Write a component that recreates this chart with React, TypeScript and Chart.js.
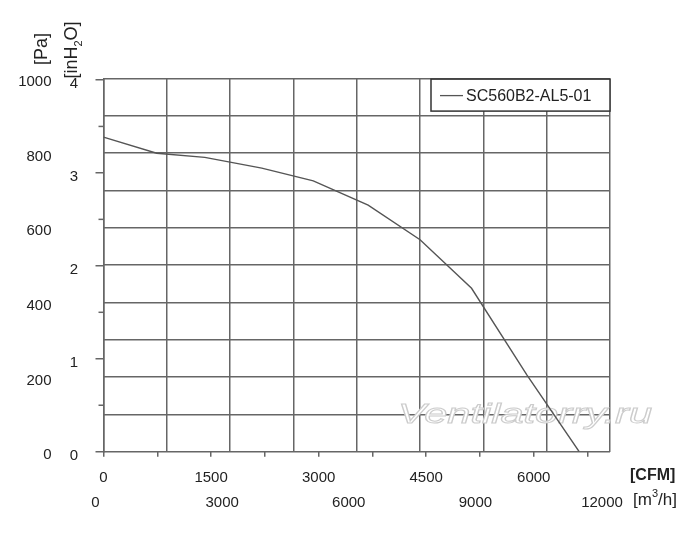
import React, { useEffect, useRef } from "react";
import { Chart, registerables } from "chart.js";

Chart.register(...registerables);

// ---- data (flow in m3/h, static pressure in Pa) ----
const flowM3h = [0, 1260, 2400, 3750, 4970, 6270, 7500, 8720, 10030, 11270];
const pressurePa = [843, 800, 789, 760, 726, 661, 568, 438, 206, 0];
const seriesName = "SC560B2-AL5-01";

const paTicks = [0, 100, 200, 300, 400, 500, 600, 700, 800, 900, 1000];
const inH2OTicks = [0, 1, 2, 3, 4];
const inH2OMinorTicks = [0.5, 1.5, 2.5, 3.5];
const m3hTicks = [0, 1500, 3000, 4500, 6000, 7500, 9000, 10500, 12000];
const cfmTicks = [0, 750, 1500, 2250, 3000, 3750, 4500, 5250, 6000, 6750];

const PA_PER_INH2O = 249.089;
const M3H_PER_CFM = 1.69901;

const GRID = "#666666";
const TEXT = "#222222";
const SANS = '"Liberation Sans", Arial, sans-serif';
const TICK_FONT = { family: SANS, size: 15 };

const decorPlugin = {
  id: "decor",
  beforeDatasetsDraw(chart: any) {
    const ctx = chart.ctx as CanvasRenderingContext2D;
    const ca = chart.chartArea;
    // watermark
    ctx.save();
    ctx.font = `italic 28px ${SANS}`;
    const txt = "Ventilatorry.ru";
    const w = ctx.measureText(txt).width;
    ctx.translate(ca.left + 294.5, ca.bottom - 28.4);
    ctx.scale(254 / w, 1);
    ctx.fillStyle = "#ffffff";
    ctx.fillText(txt, 0, 0);
    ctx.strokeStyle = "#cccccc";
    ctx.lineWidth = 1;
    ctx.strokeText(txt, 0, 0);
    ctx.restore();
  },
  afterDraw(chart: any) {
    const ctx = chart.ctx as CanvasRenderingContext2D;
    const ca = chart.chartArea;
    // minor inH2O ticks
    const yi = chart.scales.yi;
    ctx.save();
    ctx.strokeStyle = GRID;
    ctx.lineWidth = 1.5;
    inH2OMinorTicks.forEach((v) => {
      const py = yi.getPixelForValue(v);
      ctx.beginPath();
      ctx.moveTo(ca.left - 5, py);
      ctx.lineTo(ca.left, py);
      ctx.stroke();
    });
    ctx.restore();

    // legend box
    ctx.save();
    const bw = 179;
    const bh = 32;
    const bx = ca.right - bw;
    const by = ca.top + 0.5;
    ctx.fillStyle = "#ffffff";
    ctx.fillRect(bx, by, bw, bh);
    ctx.strokeStyle = "#333333";
    ctx.lineWidth = 1.5;
    ctx.strokeRect(bx, by, bw, bh);
    ctx.strokeStyle = "#555555";
    ctx.lineWidth = 1.3;
    ctx.beginPath();
    ctx.moveTo(bx + 9, by + bh / 2 + 0.5);
    ctx.lineTo(bx + 32, by + bh / 2 + 0.5);
    ctx.stroke();
    ctx.fillStyle = TEXT;
    ctx.font = `16px ${SANS}`;
    ctx.textBaseline = "alphabetic";
    ctx.fillText(seriesName, bx + 35, by + 21.5);
    ctx.restore();

    // axis titles
    ctx.save();
    ctx.fillStyle = TEXT;
    // [Pa]
    ctx.save();
    ctx.translate(34, 41);
    ctx.rotate(-Math.PI / 2);
    ctx.font = `18px ${SANS}`;
    ctx.textAlign = "center";
    ctx.textBaseline = "middle";
    ctx.fillText("[Pa]", 0, 0);
    ctx.restore();
    // [inH2O]
    ctx.save();
    ctx.translate(64, 42);
    ctx.rotate(-Math.PI / 2);
    ctx.textBaseline = "middle";
    ctx.font = `18px ${SANS}`;
    const a = "[inH";
    const b = "2";
    const c = "O]";
    const wa = ctx.measureText(a).width;
    const wc = ctx.measureText(c).width;
    ctx.font = `11px ${SANS}`;
    const wb = ctx.measureText(b).width;
    const total = wa + wb + wc;
    const x0 = -total / 2;
    ctx.font = `18px ${SANS}`;
    ctx.fillText(a, x0, 0);
    ctx.font = `11px ${SANS}`;
    ctx.fillText(b, x0 + wa, 7);
    ctx.font = `18px ${SANS}`;
    ctx.fillText(c, x0 + wa + wb, 0);
    ctx.restore();
    // [CFM]
    ctx.font = `bold 16px ${SANS}`;
    ctx.textBaseline = "alphabetic";
    ctx.fillText("[CFM]", ca.right + 20, ca.bottom + 28);
    // [m3/h]
    ctx.font = `17px ${SANS}`;
    const p1 = "[m";
    const w1 = ctx.measureText(p1).width;
    const mx = ca.right + 23;
    const my = ca.bottom + 53.5;
    ctx.fillText(p1, mx, my);
    ctx.font = `11px ${SANS}`;
    const w2 = ctx.measureText("3").width;
    ctx.fillText("3", mx + w1, my - 8);
    ctx.font = `17px ${SANS}`;
    ctx.fillText("/h]", mx + w1 + w2, my);
    ctx.restore();
  },
};

export default function App() {
  const ref = useRef<HTMLCanvasElement | null>(null);

  useEffect(() => {
    if (!ref.current) return;
    const chart = new Chart(ref.current, {
      type: "line",
      data: {
        datasets: [
          {
            label: seriesName,
            data: flowM3h.map((x, i) => ({ x, y: pressurePa[i] })),
            borderColor: "#555555",
            borderWidth: 1.4,
            pointRadius: 0,
            tension: 0,
            fill: false,
            xAxisID: "x",
            yAxisID: "y",
          },
        ],
      },
      plugins: [decorPlugin],
      options: {
        animation: false,
        responsive: true,
        maintainAspectRatio: false,
        layout: { padding: { left: 0, right: 82, top: 70.6, bottom: 24.3 } },
        plugins: {
          legend: { display: false },
          tooltip: { enabled: false },
        },
        scales: {
          x: {
            type: "linear",
            position: "bottom",
            weight: 1,
            min: 0,
            max: 12000,
            afterBuildTicks: (s: any) => {
              s.ticks = m3hTicks.map((v) => ({ value: v }));
            },
            afterFit: (s: any) => {
              s.height = 25;
            },
            grid: { color: GRID, lineWidth: 1.5, drawTicks: false },
            border: { display: false },
            ticks: {
              autoSkip: false,
              maxRotation: 0,
              padding: 10,
              labelOffset: -8,
              color: TEXT,
              font: TICK_FONT,
              callback: (v: any) => (Number(v) % 3000 === 0 ? String(v) : ""),
            },
          },
          xc: {
            type: "linear",
            position: "bottom",
            weight: 0,
            min: 0,
            max: 12000 / M3H_PER_CFM,
            afterBuildTicks: (s: any) => {
              s.ticks = cfmTicks.map((v) => ({ value: v }));
            },
            afterFit: (s: any) => {
              s.height = 32;
            },
            grid: { drawOnChartArea: false, drawTicks: true, tickLength: 5, color: GRID, lineWidth: 1.5 },
            border: { display: false },
            ticks: {
              autoSkip: false,
              maxRotation: 0,
              padding: 12,
              color: TEXT,
              font: TICK_FONT,
              callback: (v: any) => (Number(v) % 1500 === 0 ? String(v) : ""),
            },
          },
          y: {
            type: "linear",
            position: "left",
            weight: 1,
            min: 0,
            max: 1000,
            afterBuildTicks: (s: any) => {
              s.ticks = paTicks.map((v) => ({ value: v }));
            },
            afterFit: (s: any) => {
              s.width = 45;
            },
            grid: { color: GRID, lineWidth: 1.5, drawTicks: false },
            border: { display: false },
            ticks: {
              autoSkip: false,
              padding: 1.5,
              labelOffset: 3.5,
              color: TEXT,
              font: TICK_FONT,
              callback: (v: any) => (Number(v) % 200 === 0 ? String(v) : ""),
            },
          },
          yi: {
            type: "linear",
            position: "left",
            weight: 0,
            min: 0,
            max: 1000 / PA_PER_INH2O,
            afterBuildTicks: (s: any) => {
              s.ticks = inH2OTicks.map((v) => ({ value: v }));
            },
            afterFit: (s: any) => {
              s.width = 50.5;
            },
            grid: { drawOnChartArea: false, drawTicks: true, tickLength: 8, color: GRID, lineWidth: 1.5 },
            border: { display: true, color: GRID, width: 1.5 },
            ticks: {
              autoSkip: false,
              padding: 17.5,
              labelOffset: 4,
              color: TEXT,
              font: TICK_FONT,
              callback: (v: any) => String(v),
            },
          },
        },
      },
    });
    return () => chart.destroy();
  }, []);

  return (
    <div style={{ position: "relative", width: 684, height: 525 }}>
      <canvas ref={ref} />
    </div>
  );
}
